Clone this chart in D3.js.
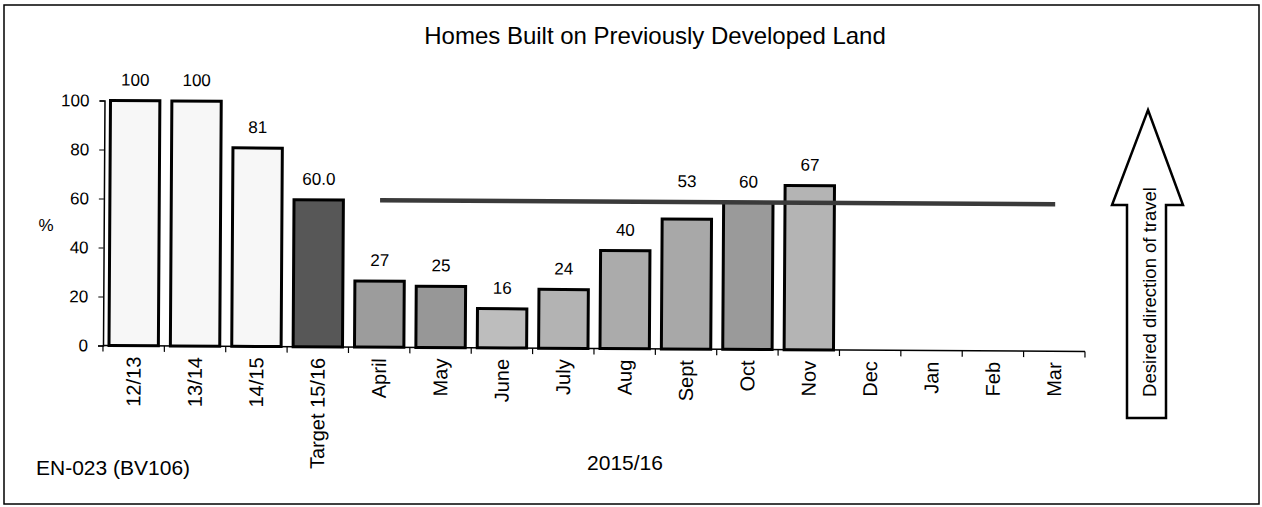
<!DOCTYPE html>
<html>
<head>
<meta charset="utf-8">
<script src="https://cdn.jsdelivr.net/npm/d3@7"></script>
<style>
  html, body { margin: 0; padding: 0; background: #fff; }
  svg { display: block; font-family: "Liberation Sans", Arial, sans-serif; }
</style>
</head>
<body>
<svg id="chart" width="1262" height="507"></svg>
<script>
// ---- data ----
const categories = ["12/13", "13/14", "14/15", "Target 15/16", "April", "May", "June", "July", "Aug", "Sept", "Oct", "Nov", "Dec", "Jan", "Feb", "Mar"];
const values = [100, 100, 81, 60, 27, 25, 16, 24, 40, 53, 60, 67, null, null, null, null];
const valueLabels = ["100", "100", "81", "60.0", "27", "25", "16", "24", "40", "53", "60", "67"];
const targetValue = 60;
const targetFrom = "April";
const targetTo = "Mar";
const yTicks = [0, 20, 40, 60, 80, 100];
const titleText = "Homes Built on Previously Developed Land";
const yAxisLabel = "%";
const xAxisLabel = "2015/16";
const codeLabel = "EN-023 (BV106)";
const arrowLabel = "Desired direction of travel";

// ---- styles ----
const barColors = ["#f7f7f7", "#f7f7f7", "#f7f7f7", "#575757", "#9c9c9c", "#979797", "#bdbdbd", "#b3b3b3", "#ababab", "#a8a8a8", "#9a9a9a", "#b4b4b4", "#fff", "#fff", "#fff", "#fff"];

const svg = d3.select("#chart");

// outer frame
svg.append("rect").attr("x", 4).attr("y", 5).attr("width", 1255).attr("height", 499)
  .attr("fill", "none").attr("stroke", "#000").attr("stroke-width", 1.5);

const x0 = 103, x1 = 1085, yBottom = 345.5, yTop = 100.5;
const x = d3.scaleBand().domain(categories).range([x0, x1]).padding(0);
const y = d3.scaleLinear().domain([0, 100]).range([yBottom, yTop]);

// slight tilt of the scanned original
const g = svg.append("g").attr("transform", `rotate(0.35, ${x0}, ${yBottom})`);

// title
svg.append("text").attr("x", 655).attr("y", 44).attr("text-anchor", "middle")
  .attr("font-size", 24).text(titleText);

// bars
const inset = 6;
const data = categories.map((c, i) => ({ c, v: values[i], label: valueLabels[i], color: barColors[i], i }));
g.selectAll("rect.bar").data(data.filter(d => d.v != null)).join("rect")
  .attr("class", "bar")
  .attr("x", d => x(d.c) + inset)
  .attr("width", x.bandwidth() - 2 * inset)
  .attr("y", d => y(d.v))
  .attr("height", d => y(0) - y(d.v))
  .attr("fill", d => d.color)
  .attr("stroke", "#000").attr("stroke-width", 3);

// target line
g.append("line")
  .attr("x1", x(targetFrom) + x.bandwidth() / 2)
  .attr("x2", x(targetTo) + x.bandwidth() / 2)
  .attr("y1", y(targetValue)).attr("y2", y(targetValue))
  .attr("stroke", "#3a3a3a").attr("stroke-width", 4.5);

// value labels
const lineY = y(targetValue);
g.selectAll("text.val").data(data.filter(d => d.v != null)).join("text")
  .attr("class", "val")
  .attr("x", d => x(d.c) + x.bandwidth() / 2)
  .attr("y", d => {
    let b = y(d.v) - 15;
    if (b - 12 < lineY + 3 && b > lineY - 3) b = lineY - 15;
    return b;
  })
  .attr("text-anchor", "middle").attr("font-size", 17)
  .text(d => d.label);

// y axis
const yAxis = g.append("g").attr("transform", `translate(${x0},0)`)
  .call(d3.axisLeft(y).tickValues(yTicks).tickSize(5).tickPadding(10));
yAxis.select(".domain").attr("stroke-width", 1.5);
yAxis.selectAll("text").attr("font-size", 17).attr("fill", "#000").attr("font-family", "Liberation Sans, Arial, sans-serif");

// x axis
const xAxisG = g.append("g").attr("transform", `translate(0,${yBottom})`);
xAxisG.append("line").attr("x1", x0).attr("x2", x1).attr("y1", 0).attr("y2", 0)
  .attr("stroke", "#000").attr("stroke-width", 1.5);
const boundaries = categories.map(c => x(c)).concat([x1]);
xAxisG.selectAll("line.tick").data(boundaries).join("line")
  .attr("class", "tick")
  .attr("x1", d => d).attr("x2", d => d).attr("y1", 0).attr("y2", 6)
  .attr("stroke", "#000").attr("stroke-width", 1.2);
xAxisG.selectAll("text").data(categories).join("text")
  .attr("transform", d => `translate(${x(d) + x.bandwidth() / 2},11) rotate(-90)`)
  .attr("text-anchor", "end").attr("dy", "0.35em")
  .attr("font-size", 20)
  .text(d => d);

// axis titles
svg.append("text").attr("x", 46).attr("y", 231).attr("text-anchor", "middle")
  .attr("font-size", 17).text(yAxisLabel);
svg.append("text").attr("x", 625).attr("y", 470).attr("text-anchor", "middle")
  .attr("font-size", 21).text(xAxisLabel);
svg.append("text").attr("x", 36).attr("y", 475)
  .attr("font-size", 21).text(codeLabel);

// desired direction arrow
const arrow = [[1148, 110], [1183, 205], [1166, 205], [1166, 418], [1127, 418], [1127, 205], [1112, 205]];
svg.append("path").attr("d", d3.line()(arrow) + "Z")
  .attr("fill", "#fff").attr("stroke", "#000").attr("stroke-width", 2.5);
svg.append("text")
  .attr("transform", "translate(1150,292) rotate(-90)")
  .attr("text-anchor", "middle").attr("dy", "0.35em")
  .attr("font-size", 18.5).text(arrowLabel);
</script>
</body>
</html>
